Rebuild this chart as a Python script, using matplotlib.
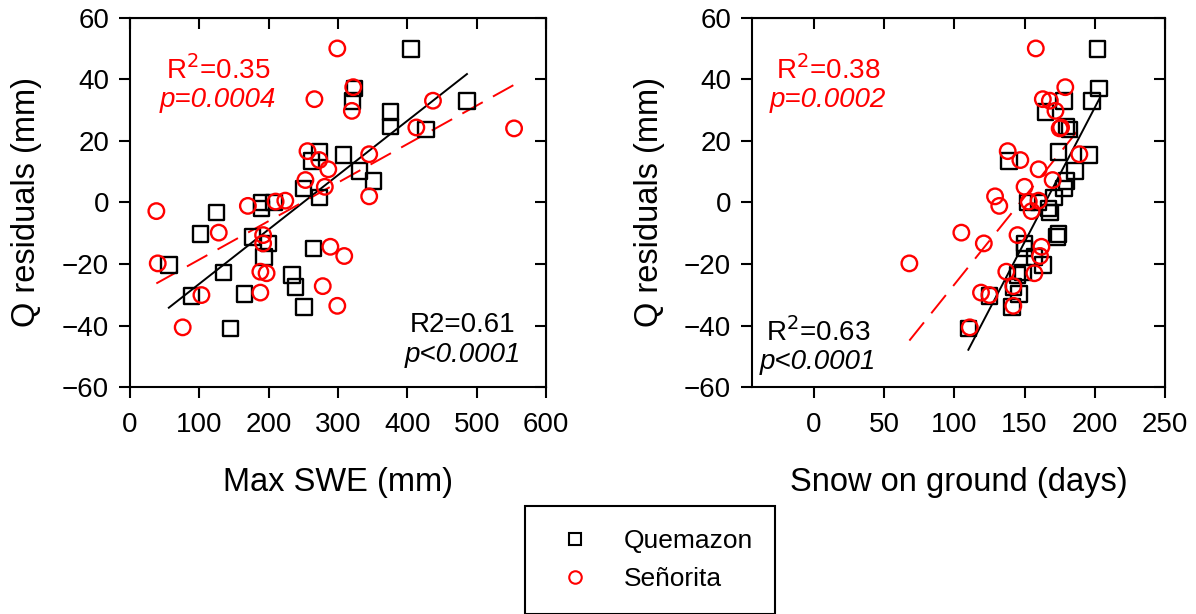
import numpy as np
import matplotlib
matplotlib.use("Agg")
import matplotlib.pyplot as plt
from matplotlib.lines import Line2D

plt.rcParams['font.family'] = ['Liberation Sans', 'DejaVu Sans']

# Q residuals (mm) vs Max SWE (mm)
swe_quem = [405, 324, 321, 486, 376, 376, 427, 273, 262, 308, 331, 351, 250, 273,
            190, 190, 208, 125, 102, 177, 200, 193, 265, 56, 135, 234, 239, 89, 165, 251, 145]
res_quem = [50, 37, 33, 33, 29.5, 24.7, 23.8, 16.5, 13.5, 15.4, 10.3, 7, 4.6, 1.6,
            0, -1.9, 0, -3.2, -10.3, -11.3, -13.3, -17.8, -14.9, -20.3, -22.8, -23.6, -27.4, -30.4, -29.8, -33.9, -41]
swe_sen = [299, 266, 322, 320, 437, 413, 554, 256, 345, 273, 286, 253, 281, 345,
           38, 170, 210, 224, 128, 192, 192, 289, 309, 40, 188, 197, 103, 188, 278, 299, 76]
res_sen = [50.1, 33.6, 37.5, 29.8, 33.1, 24.4, 24.1, 16.7, 15.7, 13.8, 10.8, 7.3, 5.1, 2,
           -2.8, -1.1, 0.3, 0.6, -9.8, -10.6, -13.3, -14.4, -17.4, -19.8, -22.5, -23, -30.1, -29.3, -27.2, -33.6, -40.6]

# Q residuals (mm) vs snow on ground (days)
days_quem = [202, 203, 198, 178, 165, 180, 182, 174, 139, 196, 186, 180, 178, 171,
             152, 167, 160, 168, 174, 173, 150, 157, 150, 163, 149, 145, 142, 125, 146, 141, 110]
days_sen = [158, 163, 179, 172, 168, 176, 175, 138, 189, 147, 160, 170, 150, 129,
            155, 132, 153, 160, 105, 145, 121, 162, 161, 68, 137, 157, 125, 119, 142, 142, 111]
res_days_quem = res_quem
res_days_sen = res_sen

stats = {
    'swe': (r'R$^2$=0.35', 'p=0.0004', 'R2=0.61', 'p<0.0001'),
    'days': (r'R$^2$=0.38', 'p=0.0002', r'R$^2$=0.63', 'p<0.0001'),
}

TICK_FS = 20
LABEL_FS = 23.5
NOTE_FS = 20
LW = 1.5


def fit_line(x, y):
    x = np.asarray(x, dtype=float)
    m, b = np.polyfit(x, y, 1)
    xs = np.array([x.min(), x.max()])
    return xs, m * xs + b


def style_axes(ax, xlim, xticks):
    ax.set_xlim(xlim)
    ax.set_ylim(-60, 60)
    ax.set_xticks(xticks)
    ax.set_yticks(np.arange(-60, 61, 20))
    ax.tick_params(axis='x', direction='out', length=8, width=LW, pad=10, labelsize=TICK_FS)
    ax.tick_params(axis='y', direction='out', length=8, width=LW, pad=7, labelsize=TICK_FS)
    for sp in ax.spines.values():
        sp.set_linewidth(LW)
    top = ax.secondary_xaxis('top')
    top.set_xticks(xticks)
    top.tick_params(direction='in', length=8, width=LW, labeltop=False)
    right = ax.secondary_yaxis('right')
    right.set_yticks(np.arange(-60, 61, 20))
    right.tick_params(direction='in', length=8, width=LW, labelright=False)
    ax.set_ylabel('Q residuals (mm)', fontsize=LABEL_FS, labelpad=14)


def draw_panel(ax, xq, yq, xs, ys):
    ax.scatter(xq, yq, marker='s', s=125, facecolors='none', edgecolors='black', linewidths=1.7, zorder=3)
    ax.scatter(xs, ys, marker='o', s=125, facecolors='none', edgecolors='red', linewidths=1.7, zorder=3)
    lx, ly = fit_line(xq, yq)
    ax.plot(lx, ly, color='black', lw=1.4, zorder=2)
    lx, ly = fit_line(xs, ys)
    ax.plot(lx, ly, color='red', lw=1.4, dashes=(12, 6), zorder=2)


def add_notes(ax, s, red_xy, black_xy):
    ax.text(red_xy[0], red_xy[1], s[0], color='red', fontsize=NOTE_FS,
            ha='center', va='center', transform=ax.transAxes)
    ax.text(red_xy[0], red_xy[1] - 0.081, s[1], color='red', fontsize=NOTE_FS,
            style='italic', ha='center', va='center', transform=ax.transAxes)
    ax.text(black_xy[0], black_xy[1], s[2], color='black', fontsize=NOTE_FS,
            ha='center', va='center', transform=ax.transAxes)
    ax.text(black_xy[0], black_xy[1] - 0.081, s[3], color='black', fontsize=NOTE_FS,
            style='italic', ha='center', va='center', transform=ax.transAxes)


fig = plt.figure(figsize=(11.96, 6.14), dpi=100)
ax1 = fig.add_axes([0.1087, 0.3697, 0.3478, 0.601])
ax2 = fig.add_axes([0.6288, 0.3697, 0.3453, 0.601])

draw_panel(ax1, swe_quem, res_quem, swe_sen, res_sen)
style_axes(ax1, (0, 600), np.arange(0, 601, 100))
ax1.set_xlabel('Max SWE (mm)', fontsize=LABEL_FS, labelpad=21)
add_notes(ax1, stats['swe'], (0.212, 0.859), (0.80, 0.168))

draw_panel(ax2, days_quem, res_days_quem, days_sen, res_days_sen)
style_axes(ax2, (-44, 250), np.arange(0, 251, 50))
ax2.set_xlabel('Snow on ground (days)', fontsize=LABEL_FS, labelpad=21)
add_notes(ax2, stats['days'], (0.184, 0.859), (0.160, 0.148))

handles = [
    Line2D([], [], marker='s', ls='none', ms=9, mfc='none', mec='black', mew=1.5),
    Line2D([], [], marker='o', ls='none', ms=9, mfc='none', mec='red', mew=1.5),
]
leg = fig.legend(handles, ['Quemazon', 'Señorita'], loc='center',
                 bbox_to_anchor=(650 / 1196, 1 - 560 / 614), fontsize=19,
                 frameon=True, fancybox=False, edgecolor='black', framealpha=1,
                 borderpad=0.85, handlelength=2.1, handletextpad=0.8,
                 borderaxespad=0, labelspacing=0.55)
leg.get_frame().set_linewidth(LW)

fig.savefig('out.png', dpi=100)
